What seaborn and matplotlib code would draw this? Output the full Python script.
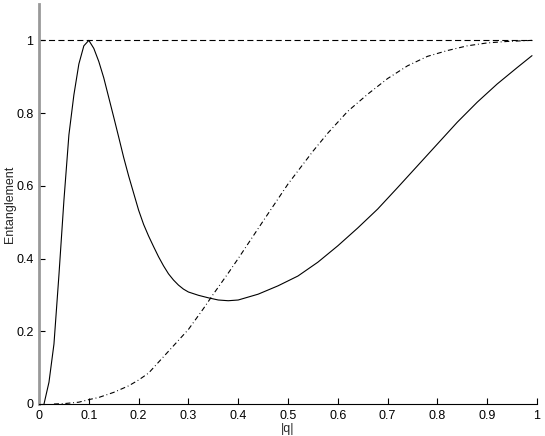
import pandas as pd
import numpy as np
import matplotlib
matplotlib.use("Agg")
import matplotlib.pyplot as plt
import seaborn as sns

# values
q_solid = [0.01, 0.02, 0.03, 0.04, 0.05, 0.06, 0.07, 0.08, 0.09, 0.10,
           0.11, 0.12, 0.13, 0.14, 0.15, 0.16, 0.17, 0.18, 0.19, 0.20,
           0.21, 0.22, 0.23, 0.24, 0.25, 0.26, 0.27, 0.28, 0.29, 0.30,
           0.32, 0.34, 0.36, 0.38, 0.40, 0.44, 0.48, 0.52, 0.56, 0.60,
           0.64, 0.68, 0.72, 0.76, 0.80, 0.84, 0.88, 0.92, 0.96, 0.99]
ent_solid = [0.0, 0.06, 0.165, 0.355, 0.56, 0.74, 0.85, 0.935, 0.985, 1.0,
             0.978, 0.942, 0.897, 0.843, 0.789, 0.734, 0.678, 0.627, 0.58, 0.533,
             0.494, 0.462, 0.433, 0.405, 0.38, 0.358, 0.341, 0.327, 0.316, 0.308,
             0.299, 0.292, 0.286, 0.284, 0.286, 0.302, 0.325, 0.352, 0.39, 0.435,
             0.484, 0.536, 0.595, 0.655, 0.715, 0.775, 0.83, 0.88, 0.925, 0.958]

q_dashdot = [0.03, 0.05, 0.08, 0.10, 0.12, 0.15, 0.18, 0.20, 0.22, 0.25,
             0.28, 0.30, 0.33, 0.35, 0.38, 0.40, 0.45, 0.50, 0.55, 0.58,
             0.62, 0.66, 0.70, 0.74, 0.78, 0.82, 0.86, 0.90, 0.94, 0.99]
ent_dashdot = [0.0, 0.001, 0.005, 0.012, 0.018, 0.032, 0.05, 0.066, 0.085, 0.13,
               0.175, 0.205, 0.262, 0.302, 0.36, 0.40, 0.503, 0.605, 0.695, 0.745,
               0.805, 0.852, 0.895, 0.93, 0.956, 0.972, 0.985, 0.993, 0.997, 1.0]

q_dashed = [0.0, 0.99]
ent_dashed = [1.0, 1.0]

xticks = [0, 0.1, 0.2, 0.3, 0.4, 0.5, 0.6, 0.7, 0.8, 0.9, 1]
xtick_labels = ["0", "0.1", "0.2", "0.3", "0.4", "0.5", "0.6", "0.7", "0.8", "0.9", "1"]
yticks = [0, 0.2, 0.4, 0.6, 0.8, 1]
ytick_labels = ["0", "0.2", "0.4", "0.6", "0.8", "1"]

sns.set_style("ticks")
plt.rcParams['font.family'] = ['Liberation Sans', 'DejaVu Sans']

fig = plt.figure(figsize=(5.45, 4.36), dpi=100)
ax = fig.add_axes([0.0716, 0.0734, 0.9137, 0.9174])

solid_df = pd.DataFrame({"q": q_solid, "E": ent_solid})
dashdot_df = pd.DataFrame({"q": q_dashdot, "E": ent_dashdot})
dashed_df = pd.DataFrame({"q": q_dashed, "E": ent_dashed})

sns.lineplot(data=solid_df, x="q", y="E", ax=ax, color="black", linewidth=0.8, sort=False)
sns.lineplot(data=dashdot_df, x="q", y="E", ax=ax, color="black", linewidth=0.8, sort=False)
ax.lines[-1].set_dashes([4.5, 2.5, 0.8, 2.5])
sns.lineplot(data=dashed_df, x="q", y="E", ax=ax, color="black", linewidth=0.8, sort=False)
ax.lines[-1].set_dashes([5.5, 3.0])

ax.set_xlim(0, 1)
ax.set_ylim(0, 1.1)
ax.set_xticks(xticks)
ax.set_xticklabels(xtick_labels)
ax.set_yticks(yticks)
ax.set_yticklabels(ytick_labels)
ax.tick_params(direction="in", length=4, width=0.8, labelsize=9, colors="black", pad=4)

sns.despine(ax=ax)
ax.spines["left"].set_color("#999999")
ax.spines["left"].set_linewidth(2)
ax.spines["bottom"].set_color("black")
ax.spines["bottom"].set_linewidth(0.8)

ax.set_xlabel("|q|", fontsize=9, labelpad=1)
ax.set_ylabel("Entanglement", fontsize=9)
ax.yaxis.set_label_coords(-0.046, 0.5)

fig.savefig("out.png", dpi=100)
